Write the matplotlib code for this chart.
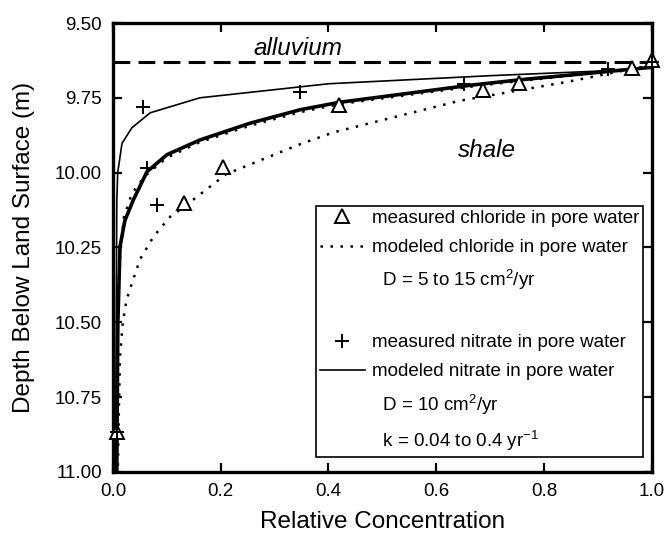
import matplotlib
matplotlib.use("Agg")
import matplotlib.pyplot as plt
from matplotlib.lines import Line2D

plt.rcParams['font.family'] = ['Liberation Sans', 'DejaVu Sans']
plt.rcParams['mathtext.fontset'] = 'custom'
plt.rcParams['mathtext.rm'] = 'Liberation Sans'
plt.rcParams['mathtext.it'] = 'Liberation Sans:italic'
plt.rcParams['mathtext.default'] = 'regular'

# ---- data ----
x_ticks = [0.0, 0.2, 0.4, 0.6, 0.8, 1.0]
y_ticks = [9.50, 9.75, 10.00, 10.25, 10.50, 10.75, 11.00]

contact_depth = 9.63

# measured chloride (triangles)
cl_conc = [1.0, 0.964, 0.754, 0.687, 0.42, 0.204, 0.132, 0.008]
cl_depth = [9.624, 9.651, 9.700, 9.725, 9.774, 9.980, 10.102, 10.866]

# measured nitrate (plus)
no3_conc = [1.0, 0.918, 0.652, 0.347, 0.056, 0.0625, 0.081, 0.008]
no3_depth = [9.630, 9.655, 9.703, 9.732, 9.780, 9.986, 10.108, 10.866]

# modeled nitrate, k = 0.4 (thin solid)
nk1_conc = [1.0, 0.91, 0.70, 0.40, 0.161, 0.069, 0.035, 0.0167, 0.0087, 0.007, 0.006, 0.005]
nk1_depth = [9.648, 9.660, 9.676, 9.703, 9.750, 9.800, 9.850, 9.902, 10.000, 10.10, 10.50, 11.00]

# modeled nitrate, k = 0.04 (thick solid)
nk2_conc = [1.0, 0.754, 0.663, 0.42, 0.347, 0.254, 0.161, 0.10, 0.063, 0.038, 0.022, 0.013, 0.009, 0.007]
nk2_depth = [9.648, 9.690, 9.708, 9.765, 9.790, 9.835, 9.891, 9.940, 9.997, 10.090, 10.160, 10.247, 10.50, 11.00]

# modeled chloride, low D (dotted, close to thick)
cm1_conc = [1.0, 0.754, 0.663, 0.42, 0.347, 0.254, 0.161, 0.10, 0.06, 0.035, 0.02, 0.012, 0.008, 0.006]
cm1_depth = [9.648, 9.694, 9.713, 9.771, 9.798, 9.843, 9.898, 9.950, 10.010, 10.070, 10.150, 10.300, 10.600, 11.00]

# modeled chloride, high D (dotted, lower)
cm2_conc = [1.0, 0.848, 0.643, 0.41, 0.347, 0.21, 0.124, 0.109, 0.075, 0.05, 0.035, 0.025, 0.018, 0.013, 0.011, 0.010, 0.009]
cm2_depth = [9.640, 9.695, 9.760, 9.865, 9.905, 10.005, 10.125, 10.141, 10.214, 10.290, 10.370, 10.425, 10.503, 10.615, 10.780, 10.880, 11.00]

alluvium_pos = (0.343, 9.607)
shale_pos = (0.695, 9.947)

# ---- figure ----
fig = plt.figure(figsize=(6.64, 5.35), dpi=100)
ax = fig.add_axes([0.1702, 0.1178, 0.9815 - 0.1702, 0.957 - 0.1178])

ax.plot([0.0, 1.0], [contact_depth, contact_depth], color='black', lw=2.2,
        dashes=(5.5, 2.7), solid_capstyle='butt')

ax.plot(nk1_conc, nk1_depth, color='black', lw=1.2)
ax.plot(nk2_conc, nk2_depth, color='black', lw=2.6)
ax.plot(cm1_conc, cm1_depth, color='black', lw=1.8, dashes=(1, 3))
ax.plot(cm2_conc, cm2_depth, color='black', lw=1.8, dashes=(1, 3))

ax.plot(cl_conc, cl_depth, ls='none', marker='^', ms=10, mfc='white',
        mec='black', mew=1.4, clip_on=False, zorder=5)
ax.plot(no3_conc, no3_depth, ls='none', marker='+', ms=10, color='black',
        mew=1.4, clip_on=False, zorder=6)

ax.text(*alluvium_pos, 'alluvium', style='italic', fontsize=17.5,
        ha='center', va='baseline')
ax.text(*shale_pos, 'shale', style='italic', fontsize=17.5,
        ha='center', va='baseline')

ax.set_xlim(0.0, 1.0)
ax.set_ylim(11.0, 9.5)
ax.set_xticks(x_ticks)
ax.set_xticklabels([f'{v:.1f}' for v in x_ticks])
ax.set_yticks(y_ticks)
ax.set_yticklabels([f'{v:.2f}' for v in y_ticks])
ax.tick_params(direction='in', length=6.5, width=1.6, top=True, right=True,
               labelsize=13.5, pad=8)
for s in ax.spines.values():
    s.set_linewidth(2.4)

ax.set_xlabel('Relative Concentration', fontsize=17.5, labelpad=8)
ax.set_ylabel('Depth Below Land Surface (m)', fontsize=17.5, labelpad=14)

# legend
h_tri = Line2D([], [], ls='none', marker='^', ms=10, mfc='white', mec='black', mew=1.4)
h_dot = Line2D([], [], color='black', lw=1.8, dashes=(1, 3))
h_none = Line2D([], [], ls='none', marker='')
h_plus = Line2D([], [], ls='none', marker='+', ms=10, color='black', mew=1.4)
h_solid = Line2D([], [], color='black', lw=1.2)
handles = [h_tri, h_dot, h_none, h_none, h_plus, h_solid, h_none, h_none]
labels = ['measured chloride in pore water',
          'modeled chloride in pore water',
          '  D = 5 to 15 cm$^2$/yr',
          ' ',
          'measured nitrate in pore water',
          'modeled nitrate in pore water',
          '  D = 10 cm$^2$/yr',
          '  k = 0.04 to 0.4 yr$^{-1}$']
leg = ax.legend(handles, labels, loc='lower right',
                bbox_to_anchor=(0.9844, 0.034), borderaxespad=0,
                fontsize=13.5, frameon=True, fancybox=False, framealpha=1,
                edgecolor='black', borderpad=0.2, handlelength=2.4,
                handletextpad=0.4, labelspacing=0.65)
leg.get_frame().set_linewidth(1.2)

fig.savefig('out.png', dpi=100)
